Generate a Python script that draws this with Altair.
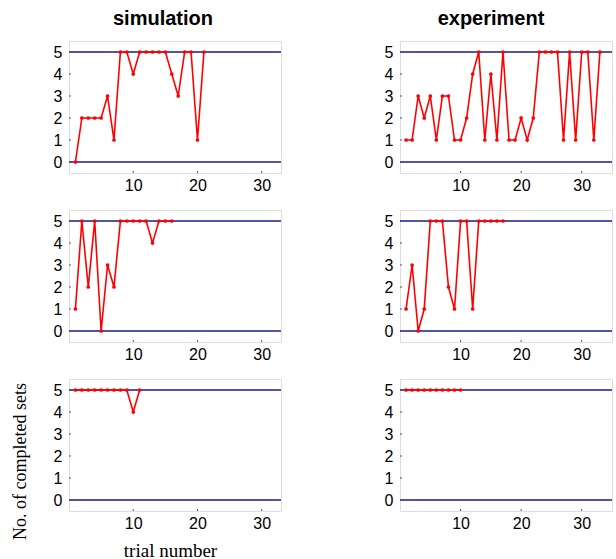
import altair as alt
import pandas as pd

# ---- data ----
sim_row1 = [0, 2, 2, 2, 2, 3, 1, 5, 5, 4, 5, 5, 5, 5, 5, 4, 3, 5, 5, 1, 5]
exp_row1 = [1, 1, 3, 2, 3, 1, 3, 3, 1, 1, 2, 4, 5, 1, 4, 1, 5, 1, 1, 2, 1, 2,
            5, 5, 5, 5, 1, 5, 1, 5, 5, 1, 5]
sim_row2 = [1, 5, 2, 5, 0, 3, 2, 5, 5, 5, 5, 5, 4, 5, 5, 5]
exp_row2 = [1, 3, 0, 1, 5, 5, 5, 2, 1, 5, 5, 1, 5, 5, 5, 5, 5]
sim_row3 = [5, 5, 5, 5, 5, 5, 5, 5, 5, 4, 5]
exp_row3 = [5, 5, 5, 5, 5, 5, 5, 5, 5, 5]

ref_levels = [0, 5]
y_ticks = [0, 1, 2, 3, 4, 5]
x_ticks = [10, 20, 30]
y_domain = [-0.5, 5.5]
x_domain_sim = [0, 33]
x_domain_exp = [0, 35]

col_titles = ["simulation", "experiment"]
y_label = "No. of completed sets"
x_label = "trial number"

W, H = 212, 132
RED = "#ff0000"
BLUE = "#1a1a8c"
SANS = "Liberation Sans"
SERIF = "Liberation Serif"


def panel(vals, xdom, title=None, title_dx=0, xtitle=None, ytitle=None):
    df = pd.DataFrame({"trial": list(range(1, len(vals) + 1)), "sets": vals})
    refs = pd.DataFrame({"level": ref_levels})
    yt = pd.DataFrame({"v": y_ticks})
    xt = pd.DataFrame({"v": x_ticks})
    xs = alt.Scale(domain=xdom, nice=False, zero=False)
    ys = alt.Scale(domain=y_domain, nice=False, zero=False)

    xaxis_kw = dict(values=x_ticks, grid=False, domain=False, ticks=False,
                    labelFont=SANS, labelFontSize=16, labelColor="black",
                    labelPadding=4, labelFlush=False, labelOverlap=False)
    yaxis_kw = dict(values=y_ticks, grid=False, domain=False, ticks=False,
                    labelFont=SANS, labelFontSize=16, labelColor="black",
                    labelPadding=7, labelOverlap=False)
    if xtitle:
        xaxis = alt.Axis(title=xtitle, titleFont=SERIF, titleFontSize=19,
                         titleFontWeight="normal", titleColor="black",
                         titleBaseline="alphabetic", titleY=45, titleX=101,
                         **xaxis_kw)
    else:
        xaxis = alt.Axis(title=None, **xaxis_kw)
    if ytitle:
        yaxis = alt.Axis(title=ytitle, titleFont=SERIF, titleFontSize=18,
                         titleFontWeight="normal", titleColor="black",
                         titleBaseline="alphabetic", titleX=-44, titleY=82,
                         titleAngle=270, **yaxis_kw)
    else:
        yaxis = alt.Axis(title=None, **yaxis_kw)

    X = lambda f: alt.X(f, scale=xs, axis=xaxis)
    Y = lambda f: alt.Y(f, scale=ys, axis=yaxis)

    rules = alt.Chart(refs).mark_rule(color=BLUE, strokeWidth=1.3).encode(
        y=Y("level:Q")
    )
    ytick = alt.Chart(yt).mark_rule(color="#555", strokeWidth=1).encode(
        y=Y("v:Q"), x=alt.value(0), x2=alt.value(2)
    )
    xtick = alt.Chart(xt).mark_rule(color="#555", strokeWidth=1).encode(
        x=X("v:Q"), y=alt.value(H), y2=alt.value(H - 2)
    )
    line = alt.Chart(df).mark_line(color=RED, strokeWidth=1.6).encode(
        x=X("trial:Q"), y=Y("sets:Q")
    )
    pts = alt.Chart(df).mark_point(filled=True, color=RED, size=14, opacity=1).encode(
        x=X("trial:Q"), y=Y("sets:Q")
    )
    props = dict(width=W, height=H)
    if title:
        props["title"] = alt.TitleParams(title, font=SANS, fontSize=20,
                                         fontWeight="bold", color="black",
                                         anchor="middle", baseline="alphabetic",
                                         offset=-4, dx=title_dx)
    return alt.layer(rules, ytick, xtick, line, pts).properties(**props)


panels = [
    panel(sim_row1, x_domain_sim, title=col_titles[0], title_dx=-12),
    panel(exp_row1, x_domain_exp, title=col_titles[1], title_dx=-15),
    panel(sim_row2, x_domain_sim),
    panel(exp_row2, x_domain_exp),
    panel(sim_row3, x_domain_sim, xtitle=x_label, ytitle=y_label),
    panel(exp_row3, x_domain_exp),
]

chart = alt.concat(*panels, columns=2, spacing={"row": 37, "column": 119},
                   bounds="flush").properties(
    padding={"left": 10, "top": 8, "right": 0, "bottom": 0}
).configure_view(
    stroke="#222", strokeWidth=1
).configure(background="white")

chart.save("out.html", embed_options={"renderer": "svg", "actions": False})
